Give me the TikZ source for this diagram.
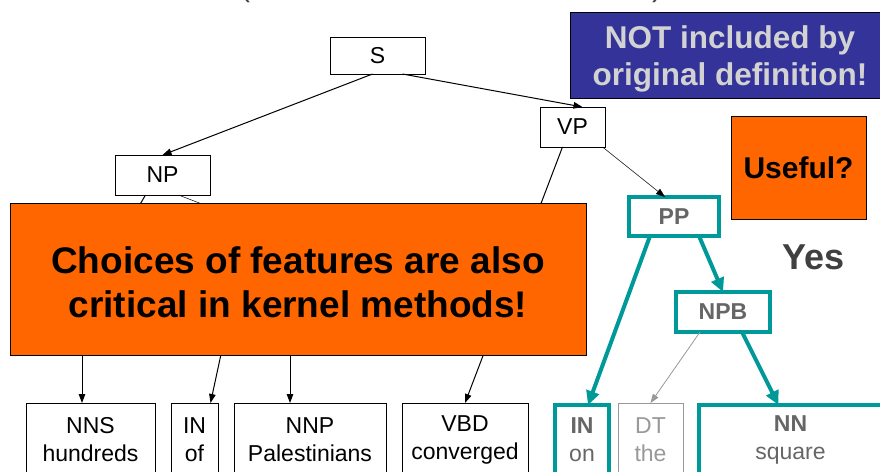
\documentclass[tikz,border=0pt]{standalone}
\usepackage{fontspec}
\setmainfont{Liberation Sans}
\usetikzlibrary{arrows.meta}
\definecolor{hlteal}{HTML}{009999}
\definecolor{boxorange}{HTML}{FF6600}
\definecolor{boxblue}{HTML}{333399}
\definecolor{paletext}{HTML}{D2D2D2}
\definecolor{midgrey}{HTML}{666666}
\definecolor{lightgrey}{HTML}{999999}
\definecolor{darkgrey}{HTML}{404040}
\tikzset{
  every node/.style={inner sep=0pt, outer sep=0pt},
  labelfont/.style={font=\fontsize{23}{28}\selectfont},
  catbox/.style={draw=black, line width=1pt, fill=white, labelfont},
  hlbox/.style={draw=hlteal, line width=4pt, fill=white, labelfont, text=midgrey, font=\fontsize{23}{28}\selectfont\bfseries},
  leafbox/.style={draw=black, line width=1pt, fill=white, anchor=north, minimum height=100pt},
  hlleaf/.style={leafbox, draw=hlteal, line width=4pt},
  greyleaf/.style={leafbox, draw=lightgrey, line width=0.8pt},
  leaftext/.style={align=center, labelfont},
  edge/.style={draw=black, line width=1pt, -{Triangle[length=9pt,width=6.5pt]}},
  thinedge/.style={draw=black, line width=0.5pt, -{Triangle[length=9pt,width=6.5pt]}},
  hidden/.style={draw=black, line width=1pt},
  hledge/.style={draw=hlteal, line width=4pt, -{Triangle[length=14pt,width=13pt]}},
  calloutbox/.style={draw=black, line width=0.8pt, align=center},
}
\begin{document}
\begin{tikzpicture}[x=1pt, y=-1pt]
\useasboundingbox (0,0) rectangle (880,471);
\clip (0,0) rectangle (880,471);
\fill[white] (0,0) rectangle (880,471);

% bits of the heading above the frame
\node[anchor=base, text=darkgrey, font=\fontsize{30}{36}\selectfont] (lparen) at (245,-3) {(};
\node[anchor=base, text=darkgrey, font=\fontsize{30}{36}\selectfont] (rparen) at (657,-3) {)};

% upper tree
\node[catbox, minimum width=95pt, minimum height=37pt] (S) at (377.5,55.5) {S};
\node[catbox, minimum width=65pt, minimum height=40pt] (VP) at (572.5,127) {VP};
\node[catbox, minimum width=95pt, minimum height=40pt] (NP) at (162.5,175) {NP};

% highlighted subtree
\node[hlbox, minimum width=90pt, minimum height=39pt] (PP) at (674,216.5) {PP};
\node[hlbox, minimum width=94pt, minimum height=40pt] (NPB) at (723,312) {NPB};

% leaves
\node[leafbox, minimum width=129pt] (nns) at (90.5,403) {};
\node[leaftext] (nnst) at ([yshift=-37pt]nns.north) {NNS\\hundreds};
\node[leafbox, minimum width=47pt] (inof) at (194.5,403) {};
\node[leaftext] (inoft) at ([yshift=-37pt]inof.north) {IN\\of};
\node[leafbox, minimum width=152pt] (nnp) at (310,403) {};
\node[leaftext] (nnpt) at ([yshift=-37pt]nnp.north) {NNP\\Palestinians};
\node[leafbox, minimum width=126pt] (vbd) at (465,403) {};
\node[leaftext] (vbdt) at ([yshift=-37pt]vbd.north) {VBD\\converged};
\node[hlleaf, minimum width=54pt] (inon) at (582,405) {};
\node[leaftext, text=midgrey] (inont) at ([yshift=-35pt]inon.north) {\textbf{IN}\\on};
\node[greyleaf, minimum width=65pt] (dt) at (650.5,403) {};
\node[leaftext, text=lightgrey] (dtt) at ([yshift=-37pt]dt.north) {DT\\the};
\node[hlleaf, minimum width=183pt] (nn) at (790.5,405) {};
\node[leaftext, text=midgrey] (nnt) at ([yshift=-35pt]nn.north) {\textbf{NN}\\square};

% points of the tree that lie behind the big callout
\coordinate (hA) at (125,230);
\coordinate (hB) at (243.5,220);
\coordinate (h1) at (82,340);
\coordinate (h2) at (223,345);
\coordinate (h3) at (290,340);

% connectors
\draw[edge] ([xshift=-5pt]S.south) -- (NP.north);
\draw[edge] ([xshift=25pt]S.south) -- ([xshift=10pt]VP.north);
\draw[thinedge] ([xshift=30pt]VP.south) -- ([xshift=-9pt]PP.north);
\draw[edge] ([xshift=-10pt]VP.south) -- (vbd.north);
\draw[hidden] ([xshift=-17pt]NP.south) -- (hA);
\draw[hidden, line width=0.5pt] ([xshift=16pt]NP.south) -- (hB);
\draw[edge] (h1) -- ([xshift=-8.5pt]nns.north);
\draw[edge] (h2) -- ([xshift=16pt]inof.north);
\draw[edge] (h3) -- ([xshift=-20pt]nnp.north);
\draw[hledge] ([xshift=-24pt]PP.south) -- ([xshift=6pt]inon.north);
\draw[hledge] ([xshift=25pt]PP.south) -- (NPB.north);
\draw[hledge] ([xshift=19pt]NPB.south) -- ([xshift=-12pt]nn.north);
\draw[draw=lightgrey, line width=0.8pt, -{Triangle[length=9pt,width=6.5pt]}] ([xshift=-23pt]NPB.south) -- (dt.north);

% callouts
\node[calloutbox, fill=boxorange, minimum width=576pt, minimum height=152pt] (choices) at (298,279.5) {};
\node[align=center, font=\fontsize{37}{44}\selectfont\bfseries] (choicest) at (298,282)
  {Choices of features are also\\critical in kernel methods!};
\node[calloutbox, fill=boxblue, minimum width=320pt, minimum height=86pt] (notincl) at (730,55) {};
\node[align=center, text=paletext, font=\fontsize{31.5}{37}\selectfont\bfseries] (notinclt) at (730,59)
  {NOT included by\\original definition!};
\node[calloutbox, fill=boxorange, minimum width=135pt, minimum height=103pt,
      font=\fontsize{30}{36}\selectfont\bfseries] (useful) at (798.5,167.5) {Useful?};
\node[text=darkgrey, font=\fontsize{36}{42}\selectfont\bfseries] (yes) at (813.5,257) {Yes};
\end{tikzpicture}
\end{document}
